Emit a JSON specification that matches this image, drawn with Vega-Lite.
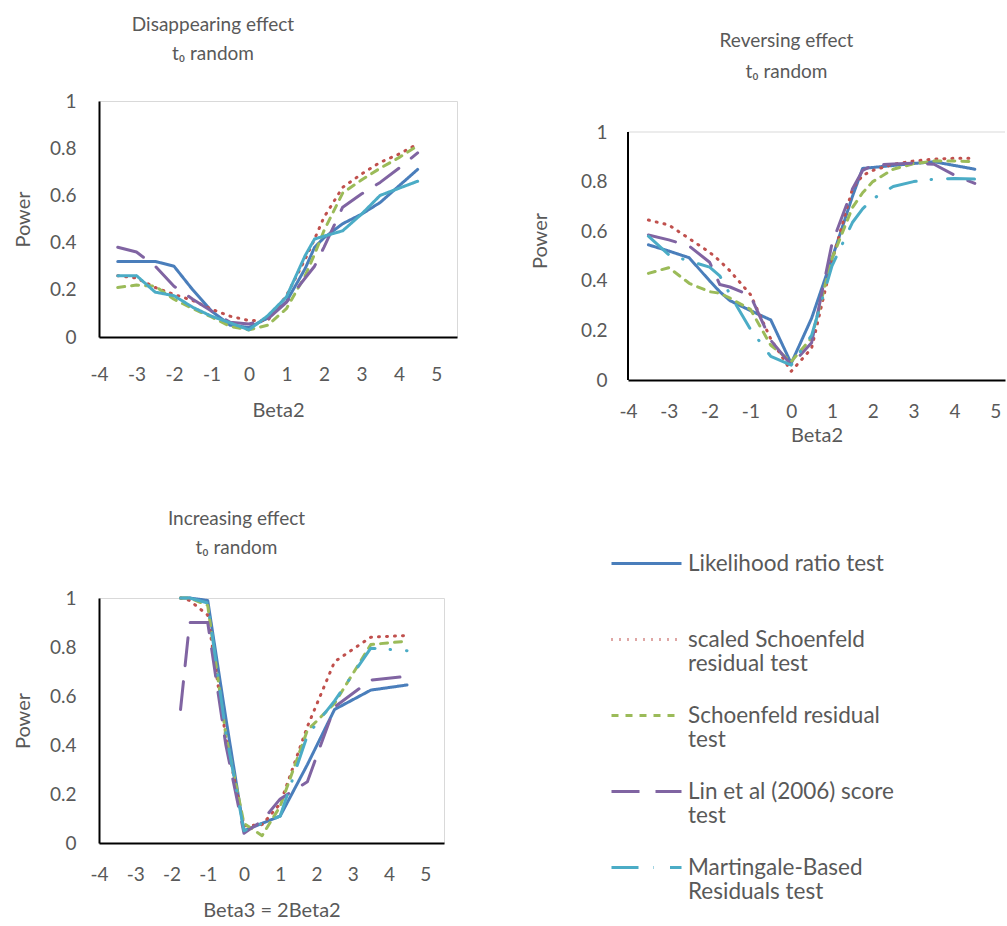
{
  "$schema": "https://vega.github.io/schema/vega-lite/v6.json",
  "background": "white",
  "padding": {"left": 12, "top": 15, "right": 0, "bottom": 0},
  "config": {
    "font": "Lato",
    "view": {"stroke": "#d9d9d9", "strokeWidth": 1},
    "axis": {"grid": false, "ticks": false, "domainColor": "black", "domainWidth": 2, "labelColor": "#595959", "labelFont": "Lato", "labelFontSize": 19, "titleColor": "#595959", "titleFont": "Lato", "titleFontSize": 20, "titleFontWeight": "normal", "labelFlush": false, "labelOverlap": false, "labelBound": false},
    "title": {"font": "Lato", "fontSize": 19, "fontWeight": "normal", "color": "#595959", "lineHeight": 29, "anchor": "middle"},
    "line": {"strokeWidth": 3, "strokeCap": "round", "strokeJoin": "round", "invalid": "filter"}
  },
  "datasets": {
    "dis": [
      {"beta": -3.5, "Likelihood ratio test": 0.32, "scaled Schoenfeld residual test": 0.26, "Schoenfeld residual test": 0.21, "Lin et al (2006) score test": 0.38, "Martingale-Based Residuals test": 0.26},
      {"beta": -3, "Likelihood ratio test": 0.32, "scaled Schoenfeld residual test": 0.25, "Schoenfeld residual test": 0.22, "Lin et al (2006) score test": 0.36, "Martingale-Based Residuals test": 0.26},
      {"beta": -2.5, "Likelihood ratio test": 0.32, "scaled Schoenfeld residual test": 0.21, "Schoenfeld residual test": 0.215, "Lin et al (2006) score test": 0.30, "Martingale-Based Residuals test": 0.19},
      {"beta": -2, "Likelihood ratio test": 0.30, "scaled Schoenfeld residual test": 0.18, "Schoenfeld residual test": 0.16, "Lin et al (2006) score test": 0.215, "Martingale-Based Residuals test": 0.175},
      {"beta": -1.5, "Likelihood ratio test": 0.20, "scaled Schoenfeld residual test": 0.155, "Schoenfeld residual test": 0.12, "Lin et al (2006) score test": 0.16, "Martingale-Based Residuals test": 0.126},
      {"beta": -1, "Likelihood ratio test": 0.11, "scaled Schoenfeld residual test": 0.118, "Schoenfeld residual test": 0.085, "Lin et al (2006) score test": 0.11, "Martingale-Based Residuals test": 0.088},
      {"beta": -0.5, "Likelihood ratio test": 0.05, "scaled Schoenfeld residual test": 0.088, "Schoenfeld residual test": 0.045, "Lin et al (2006) score test": 0.062, "Martingale-Based Residuals test": 0.06},
      {"beta": 0, "Likelihood ratio test": 0.04, "scaled Schoenfeld residual test": 0.07, "Schoenfeld residual test": 0.03, "Lin et al (2006) score test": 0.055, "Martingale-Based Residuals test": 0.03},
      {"beta": 0.5, "Likelihood ratio test": 0.08, "scaled Schoenfeld residual test": 0.07, "Schoenfeld residual test": 0.05, "Lin et al (2006) score test": 0.076, "Martingale-Based Residuals test": 0.09},
      {"beta": 1, "Likelihood ratio test": 0.15, "scaled Schoenfeld residual test": 0.175, "Schoenfeld residual test": 0.12, "Lin et al (2006) score test": 0.147, "Martingale-Based Residuals test": 0.17},
      {"beta": 1.5, "Likelihood ratio test": 0.29, "scaled Schoenfeld residual test": 0.33, "Schoenfeld residual test": 0.26, "Lin et al (2006) score test": 0.25, "Martingale-Based Residuals test": 0.345},
      {"beta": 1.75, "Likelihood ratio test": 0.38, "scaled Schoenfeld residual test": 0.415, "Schoenfeld residual test": 0.35, "Lin et al (2006) score test": 0.30, "Martingale-Based Residuals test": 0.415},
      {"beta": 2, "Likelihood ratio test": 0.42, "scaled Schoenfeld residual test": 0.507, "Schoenfeld residual test": 0.45, "Lin et al (2006) score test": 0.38, "Martingale-Based Residuals test": 0.427},
      {"beta": 2.5, "Likelihood ratio test": 0.48, "scaled Schoenfeld residual test": 0.634, "Schoenfeld residual test": 0.61, "Lin et al (2006) score test": 0.55, "Martingale-Based Residuals test": 0.45},
      {"beta": 3, "Likelihood ratio test": 0.52, "scaled Schoenfeld residual test": 0.69, "Schoenfeld residual test": 0.665, "Lin et al (2006) score test": 0.606, "Martingale-Based Residuals test": 0.52},
      {"beta": 3.5, "Likelihood ratio test": 0.57, "scaled Schoenfeld residual test": 0.74, "Schoenfeld residual test": 0.715, "Lin et al (2006) score test": 0.655, "Martingale-Based Residuals test": 0.60},
      {"beta": 4, "Likelihood ratio test": 0.64, "scaled Schoenfeld residual test": 0.775, "Schoenfeld residual test": 0.76, "Lin et al (2006) score test": 0.715, "Martingale-Based Residuals test": 0.63},
      {"beta": 4.5, "Likelihood ratio test": 0.71, "scaled Schoenfeld residual test": 0.818, "Schoenfeld residual test": 0.81, "Lin et al (2006) score test": 0.78, "Martingale-Based Residuals test": 0.66}
    ],
    "rev": [
      {"beta": -3.5, "Likelihood ratio test": 0.545, "scaled Schoenfeld residual test": 0.645, "Schoenfeld residual test": 0.43, "Lin et al (2006) score test": 0.585, "Martingale-Based Residuals test": 0.58},
      {"beta": -3, "Likelihood ratio test": 0.52, "scaled Schoenfeld residual test": 0.625, "Schoenfeld residual test": 0.453, "Lin et al (2006) score test": 0.565, "Martingale-Based Residuals test": 0.505},
      {"beta": -2.5, "Likelihood ratio test": 0.493, "scaled Schoenfeld residual test": 0.57, "Schoenfeld residual test": 0.39, "Lin et al (2006) score test": 0.54, "Martingale-Based Residuals test": 0.48},
      {"beta": -2, "Likelihood ratio test": 0.40, "scaled Schoenfeld residual test": 0.515, "Schoenfeld residual test": 0.356, "Lin et al (2006) score test": 0.475, "Martingale-Based Residuals test": 0.455},
      {"beta": -1.75, "Likelihood ratio test": 0.356, "scaled Schoenfeld residual test": 0.48, "Schoenfeld residual test": 0.35, "Lin et al (2006) score test": 0.385, "Martingale-Based Residuals test": 0.42},
      {"beta": -1.5, "Likelihood ratio test": 0.32, "scaled Schoenfeld residual test": 0.44, "Schoenfeld residual test": 0.33, "Lin et al (2006) score test": 0.375, "Martingale-Based Residuals test": 0.345},
      {"beta": -1, "Likelihood ratio test": 0.28, "scaled Schoenfeld residual test": 0.345, "Schoenfeld residual test": 0.285, "Lin et al (2006) score test": 0.34, "Martingale-Based Residuals test": 0.205},
      {"beta": -0.5, "Likelihood ratio test": 0.242, "scaled Schoenfeld residual test": 0.165, "Schoenfeld residual test": 0.14, "Lin et al (2006) score test": 0.16, "Martingale-Based Residuals test": 0.095},
      {"beta": 0, "Likelihood ratio test": 0.067, "scaled Schoenfeld residual test": 0.035, "Schoenfeld residual test": 0.074, "Lin et al (2006) score test": 0.06, "Martingale-Based Residuals test": 0.06},
      {"beta": 0.5, "Likelihood ratio test": 0.249, "scaled Schoenfeld residual test": 0.128, "Schoenfeld residual test": 0.17, "Lin et al (2006) score test": 0.15, "Martingale-Based Residuals test": 0.18},
      {"beta": 1, "Likelihood ratio test": 0.49, "scaled Schoenfeld residual test": 0.48, "Schoenfeld residual test": 0.49, "Lin et al (2006) score test": 0.55, "Martingale-Based Residuals test": 0.46},
      {"beta": 1.5, "Likelihood ratio test": 0.74, "scaled Schoenfeld residual test": 0.77, "Schoenfeld residual test": 0.695, "Lin et al (2006) score test": 0.77, "Martingale-Based Residuals test": 0.635},
      {"beta": 1.75, "Likelihood ratio test": 0.853, "scaled Schoenfeld residual test": 0.825, "Schoenfeld residual test": 0.755, "Lin et al (2006) score test": 0.845, "Martingale-Based Residuals test": 0.69},
      {"beta": 2, "Likelihood ratio test": 0.857, "scaled Schoenfeld residual test": 0.845, "Schoenfeld residual test": 0.80, "Lin et al (2006) score test": 0.866, "Martingale-Based Residuals test": 0.73},
      {"beta": 2.5, "Likelihood ratio test": 0.865, "scaled Schoenfeld residual test": 0.87, "Schoenfeld residual test": 0.85, "Lin et al (2006) score test": 0.871, "Martingale-Based Residuals test": 0.78},
      {"beta": 3, "Likelihood ratio test": 0.873, "scaled Schoenfeld residual test": 0.883, "Schoenfeld residual test": 0.872, "Lin et al (2006) score test": 0.874, "Martingale-Based Residuals test": 0.80},
      {"beta": 3.5, "Likelihood ratio test": 0.88, "scaled Schoenfeld residual test": 0.891, "Schoenfeld residual test": 0.883, "Lin et al (2006) score test": 0.87, "Martingale-Based Residuals test": 0.81},
      {"beta": 4, "Likelihood ratio test": 0.865, "scaled Schoenfeld residual test": 0.894, "Schoenfeld residual test": 0.883, "Lin et al (2006) score test": 0.826, "Martingale-Based Residuals test": 0.813},
      {"beta": 4.5, "Likelihood ratio test": 0.85, "scaled Schoenfeld residual test": 0.894, "Schoenfeld residual test": 0.88, "Lin et al (2006) score test": 0.793, "Martingale-Based Residuals test": 0.81}
    ],
    "inc": [
      {"beta": -1.75, "Likelihood ratio test": 1.0, "scaled Schoenfeld residual test": 1.0, "Schoenfeld residual test": 1.0, "Lin et al (2006) score test": 0.545, "Martingale-Based Residuals test": 1.0},
      {"beta": -1.5, "Likelihood ratio test": 1.0, "scaled Schoenfeld residual test": 0.99, "Schoenfeld residual test": 1.0, "Lin et al (2006) score test": 0.9, "Martingale-Based Residuals test": 1.0},
      {"beta": -1, "Likelihood ratio test": 0.99, "scaled Schoenfeld residual test": 0.93, "Schoenfeld residual test": 0.97, "Lin et al (2006) score test": 0.9, "Martingale-Based Residuals test": 0.98},
      {"beta": -0.5, "Likelihood ratio test": 0.51, "scaled Schoenfeld residual test": 0.43, "Schoenfeld residual test": 0.44, "Lin et al (2006) score test": 0.40, "Martingale-Based Residuals test": 0.45},
      {"beta": 0, "Likelihood ratio test": 0.05, "scaled Schoenfeld residual test": 0.07, "Schoenfeld residual test": 0.08, "Lin et al (2006) score test": 0.04, "Martingale-Based Residuals test": 0.05},
      {"beta": 0.5, "Likelihood ratio test": 0.08, "scaled Schoenfeld residual test": 0.075, "Schoenfeld residual test": 0.03, "Lin et al (2006) score test": 0.09, "Martingale-Based Residuals test": 0.08},
      {"beta": 1, "Likelihood ratio test": 0.11, "scaled Schoenfeld residual test": 0.16, "Schoenfeld residual test": 0.15, "Lin et al (2006) score test": 0.18, "Martingale-Based Residuals test": 0.11},
      {"beta": 1.75, "Likelihood ratio test": 0.32, "scaled Schoenfeld residual test": 0.475, "Schoenfeld residual test": 0.46, "Lin et al (2006) score test": 0.25, "Martingale-Based Residuals test": 0.44},
      {"beta": 2.5, "Likelihood ratio test": 0.545, "scaled Schoenfeld residual test": 0.74, "Schoenfeld residual test": 0.57, "Lin et al (2006) score test": 0.555, "Martingale-Based Residuals test": 0.58},
      {"beta": 3.5, "Likelihood ratio test": 0.624, "scaled Schoenfeld residual test": 0.84, "Schoenfeld residual test": 0.81, "Lin et al (2006) score test": 0.665, "Martingale-Based Residuals test": 0.795},
      {"beta": 4.5, "Likelihood ratio test": 0.645, "scaled Schoenfeld residual test": 0.847, "Schoenfeld residual test": 0.824, "Lin et al (2006) score test": 0.68, "Martingale-Based Residuals test": 0.785}
    ]
  },
  "resolve": {"scale": {"color": "independent", "strokeDash": "independent"}, "legend": {"color": "independent", "strokeDash": "independent"}},
  "columns": 2,
  "spacing": 72,
  "concat": [
    {
      "spacing": 88,
      "resolve": {"scale": {"color": "independent", "strokeDash": "independent"}, "legend": {"color": "independent", "strokeDash": "independent"}},
      "vconcat": [
        {
          "data": {"name": "dis"},
          "transform": [{"fold": ["Likelihood ratio test", "scaled Schoenfeld residual test", "Schoenfeld residual test", "Lin et al (2006) score test", "Martingale-Based Residuals test"], "as": ["test", "power"]}],
          "width": 358,
          "height": 236,
          "title": {"text": ["Disappearing effect", "t₀ random"], "offset": 28, "dx": -65},
          "mark": {"type": "line"},
          "encoding": {
            "x": {"field": "beta", "type": "quantitative", "scale": {"domain": [-4, 5.55], "nice": false, "zero": false},
                  "axis": {"values": [-4, -3, -2, -1, 0, 1, 2, 3, 4, 5], "labelExpr": "'' + datum.value", "title": "Beta2", "labelPadding": 28, "titlePadding": 16}},
            "y": {"field": "power", "type": "quantitative", "scale": {"domain": [0, 1], "nice": false},
                  "axis": {"values": [0, 0.2, 0.4, 0.6, 0.8, 1], "labelExpr": "'' + datum.value", "title": "Power", "labelPadding": 23, "titlePadding": 16}},
            "color": {"field": "test", "type": "nominal", "legend": null,
                      "scale": {"domain": ["Likelihood ratio test", "scaled Schoenfeld residual test", "Schoenfeld residual test", "Lin et al (2006) score test", "Martingale-Based Residuals test"], "range": ["#4a7ebb", "#c0504d", "#9bbb59", "#8064a2", "#4bacc6"]}},
            "strokeDash": {"field": "test", "type": "nominal", "legend": null,
                      "scale": {"domain": ["Likelihood ratio test", "scaled Schoenfeld residual test", "Schoenfeld residual test", "Lin et al (2006) score test", "Martingale-Based Residuals test"], "range": [[1, 0], [1, 7], [7, 7], [28, 16], [1, 0]]}}
          }
        },
        {
          "data": {"name": "inc"},
          "transform": [{"fold": ["Likelihood ratio test", "scaled Schoenfeld residual test", "Schoenfeld residual test", "Lin et al (2006) score test", "Martingale-Based Residuals test"], "as": ["test", "power"]}],
          "width": 345,
          "height": 245,
          "title": {"text": ["Increasing effect", "t₀ random"], "offset": 31, "dx": -35},
          "mark": {"type": "line"},
          "encoding": {
            "x": {"field": "beta", "type": "quantitative", "scale": {"domain": [-4, 5.52], "nice": false, "zero": false},
                  "axis": {"values": [-4, -3, -2, -1, 0, 1, 2, 3, 4, 5], "labelExpr": "'' + datum.value", "title": "Beta3 = 2Beta2", "labelPadding": 22, "titlePadding": 16}},
            "y": {"field": "power", "type": "quantitative", "scale": {"domain": [0, 1], "nice": false},
                  "axis": {"values": [0, 0.2, 0.4, 0.6, 0.8, 1], "labelExpr": "'' + datum.value", "title": "Power", "labelPadding": 23, "titlePadding": 16}},
            "color": {"field": "test", "type": "nominal", "legend": null,
                      "scale": {"domain": ["Likelihood ratio test", "scaled Schoenfeld residual test", "Schoenfeld residual test", "Lin et al (2006) score test", "Martingale-Based Residuals test"], "range": ["#4a7ebb", "#c0504d", "#9bbb59", "#8064a2", "#4bacc6"]}},
            "strokeDash": {"field": "test", "type": "nominal", "legend": null,
                      "scale": {"domain": ["Likelihood ratio test", "scaled Schoenfeld residual test", "Schoenfeld residual test", "Lin et al (2006) score test", "Martingale-Based Residuals test"], "range": [[1, 0], [1, 7], [7, 7], [28, 16], [27, 15, 0.5, 16]]}}
          }
        }
      ]
    },
    {
      "resolve": {"scale": {"color": "independent", "strokeDash": "independent"}, "legend": {"color": "independent", "strokeDash": "independent"}},
      "vconcat": [
        {
          "width": 377,
          "height": 279,
          "view": {"stroke": null},
          "title": {"text": ["Reversing effect", "t₀ random"], "lineHeight": 31, "offset": 19, "dx": -30},
          "layer": [
            {
              "data": {"name": "rev"},
              "transform": [{"fold": ["Likelihood ratio test", "scaled Schoenfeld residual test", "Schoenfeld residual test", "Lin et al (2006) score test", "Martingale-Based Residuals test"], "as": ["test", "power"]}],
              "mark": {"type": "line"},
              "encoding": {
                "x": {"field": "beta", "type": "quantitative", "scale": {"domain": [-4, 5.24], "nice": false, "zero": false},
                      "axis": {"values": [-4, -3, -2, -1, 0, 1, 2, 3, 4, 5], "labelExpr": "'' + datum.value", "title": "Beta2", "labelPadding": 22, "titlePadding": 4}},
                "y": {"field": "power", "type": "quantitative", "scale": {"domain": [0, 1.125], "nice": false},
                      "axis": {"values": [0, 0.2, 0.4, 0.6, 0.8, 1], "labelExpr": "'' + datum.value", "title": "Power", "labelPadding": 21, "titlePadding": 30, "domain": false}},
                "color": {"field": "test", "type": "nominal",
                          "scale": {"domain": ["Likelihood ratio test", "scaled Schoenfeld residual test", "Schoenfeld residual test", "Lin et al (2006) score test", "Martingale-Based Residuals test"], "range": ["#4a7ebb", "#c0504d", "#9bbb59", "#8064a2", "#4bacc6"]},
                          "legend": {"orient": "none", "legendX": -18, "legendY": 426, "title": null, "padding": 0,
                                     "symbolType": "stroke", "symbolSize": 4900, "symbolStrokeWidth": 3,
                                     "labelFont": "Lato", "labelFontSize": 22.5, "labelColor": "#595959", "labelOffset": 5, "labelLimit": 400,
                                     "rowPadding": 3, "labelBaseline": "middle",
                                     "labelExpr": "datum.label == 'Likelihood ratio test' ? ['Likelihood ratio test', ''] : datum.label == 'scaled Schoenfeld residual test' ? [' scaled Schoenfeld', 'residual test'] : datum.label == 'Schoenfeld residual test' ? ['Schoenfeld residual', 'test'] : datum.label == 'Lin et al (2006) score test' ? ['Lin et al (2006) score', 'test'] : ['Martingale-Based', 'Residuals test']",
                                     "encode": {"labels": {"update": {"lineHeight": {"value": 30}, "dy": {"value": 15}}}, "symbols": {"update": {"strokeCap": {"value": "round"}}}}}},
                "strokeDash": {"field": "test", "type": "nominal",
                          "scale": {"domain": ["Likelihood ratio test", "scaled Schoenfeld residual test", "Schoenfeld residual test", "Lin et al (2006) score test", "Martingale-Based Residuals test"], "range": [[1, 0], [1, 7], [7, 7], [28, 16], [27, 15, 0.5, 16]]}}
              }
            },
            {
              "data": {"values": [{}]},
              "mark": {"type": "rule", "color": "#d9d9d9", "strokeWidth": 1},
              "encoding": {"x": {"datum": -4}, "x2": {"datum": 5.24}, "y": {"datum": 1}}
            },
            {
              "data": {"values": [{}]},
              "mark": {"type": "rule", "color": "black", "strokeWidth": 2},
              "encoding": {"x": {"datum": -4}, "y": {"datum": 0}, "y2": {"datum": 1}}
            }
          ]
        }
      ]
    }
  ]
}
